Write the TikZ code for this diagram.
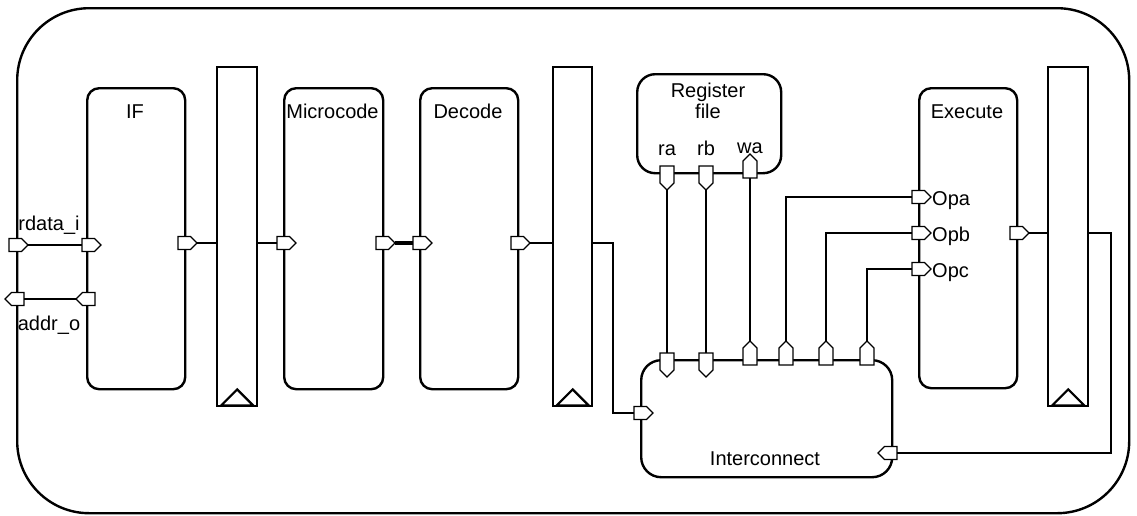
\documentclass[tikz,border=0pt]{standalone}
\usepackage{fontspec}
\setmainfont{Liberation Sans}
\usetikzlibrary{shapes.symbols}

\tikzset{
  wire/.style={line width=2.5pt},
  heavywire/.style={line width=4pt},
  frame/.style={draw, line width=2.4pt, rounded corners=72pt},
  blk/.style={draw, line width=2.4pt, rounded corners=12pt, anchor=north west, inner sep=0pt},
  rfblk/.style={draw, line width=2.4pt, rounded corners=18pt, anchor=north west, inner sep=0pt},
  regbar/.style={draw, line width=2.4pt, anchor=north west, inner sep=0pt, minimum width=40pt, minimum height=339pt},
  clk/.style={line width=2.2pt},
  port/.style={shape=signal, signal from=nowhere, draw, fill=white, line width=1.2pt, inner sep=0pt, outer sep=0pt},
  pe/.style={port, signal to=east, minimum width=19pt, minimum height=13pt, anchor=west, xshift=-6pt},
  pw/.style={port, signal to=west, minimum width=19pt, minimum height=13pt, anchor=east, xshift=6pt},
  ps/.style={port, signal to=south, minimum width=14pt, minimum height=17pt, anchor=north, yshift=6pt},
  pn/.style={port, signal to=north, minimum width=14pt, minimum height=17pt, anchor=south, yshift=-6pt},
  lbl/.style={inner sep=0pt, anchor=base},
}

\begin{document}
\begin{tikzpicture}[x=1pt, y=-1pt, font=\fontsize{20}{21}\selectfont]
  \useasboundingbox[fill=white] (0,0) rectangle (1137,515);

  % enclosing core outline
  \node[frame, anchor=north west, minimum width=1112pt, minimum height=505pt, inner sep=0pt] (core) at (16,7) {};

  % pipeline stages
  \node[blk, minimum width=98pt, minimum height=301pt] (if) at (86,87) {};
  \node[blk, minimum width=99pt, minimum height=301pt] (mc) at (283,87) {};
  \node[blk, minimum width=98pt, minimum height=301pt] (dec) at (419,87) {};
  \node[blk, minimum width=98pt, minimum height=300pt] (ex) at (918,87) {};
  \node[rfblk, minimum width=144pt, minimum height=99pt] (rf) at (636,73) {};
  \node[rfblk, rounded corners=20pt, minimum width=251pt, minimum height=117pt] (ic) at (640,359) {};

  \node[lbl] at (135,118) {IF};
  \node[lbl] at (332.5,118) {Microcode};
  \node[lbl] at (468,118) {Decode};
  \node[lbl] at (967,118) {Execute};
  \node[inner sep=0pt, anchor=north, align=center] (rftxt) at (708,83) {Register\\file};
  \node[lbl] at (765,465) {Interconnect};

  % pipeline registers with clock marks
  \node[regbar] (b1) at (216,66) {};
  \node[regbar, minimum width=39pt] (b2) at (552,66) {};
  \node[regbar] (b3) at (1047,66) {};
  \foreach \b in {b1,b2,b3}
    \draw[clk] (\b.south) ++(-16,-2) -- ++(16,-16) -- ++(16,16) -- cycle;

  % wire bends
  \coordinate (j1) at (613,243);
  \coordinate (j2) at (1111,233);

  % memory interface ports
  \node[pe] (rdo) at (15,245) {};
  \node[pe] (rdi) at (88,245) {};
  \node[pw] (ado) at (89,299) {};
  \node[pw] (adi) at (18,299) {};
  \node[lbl] at (49,230) {rdata\_i};
  \node[lbl] at (49,330) {addr\_o};

  % stage ports
  \node[pe] (ifo) at (184,243) {};
  \node[pe] (mci) at (283,243) {};
  \node[pe] (mco) at (382,243) {};
  \node[pe] (dci) at (419,243) {};
  \node[pe] (dco) at (517,243) {};
  \node[pe] (opa) at (918,197) {};
  \node[pe] (opb) at (918,233) {};
  \node[pe] (opc) at (918,269) {};
  \node[pe] (exo) at (1016,233) {};
  \node[lbl, anchor=base west] at (932,205) {Opa};
  \node[lbl, anchor=base west] at (932,241) {Opb};
  \node[lbl, anchor=base west] at (932,277) {Opc};

  % register file ports
  \node[ps] (rfa) at (667,172) {};
  \node[ps] (rfb) at (706,172) {};
  \node[pn] (rfw) at (750,172) {};
  \node[lbl] at (667,155) {ra};
  \node[lbl] at (706,155) {rb};
  \node[lbl] at (750,153) {wa};

  % interconnect ports
  \node[ps] (ica) at (667,359) {};
  \node[ps] (icb) at (706,359) {};
  \node[pn] (icw) at (750,359) {};
  \node[pn] (ixa) at (786,359) {};
  \node[pn] (ixb) at (826,359) {};
  \node[pn] (ixc) at (867,359) {};
  \node[pe] (icl) at (640,413) {};
  \node[pw] (icr) at (891,453) {};

  % wires
  \draw[wire] (rdo.east) -- (rdi.west);
  \draw[wire] (ado.west) -- (adi.east);
  \draw[wire] (ifo.east) -- (b1.west |- ifo.east);
  \draw[wire] (b1.east |- mci.west) -- (mci.west);
  \draw[heavywire] (mco.east) -- (dci.west);
  \draw[wire] (dco.east) -- (b2.west |- dco.east);
  \draw[wire] (b2.east |- j1) -- (j1) |- (icl.west);
  \draw[wire] (rfa.south) -- (ica.north);
  \draw[wire] (rfb.south) -- (icb.north);
  \draw[wire] (icw.north) -- (rfw.south);
  \draw[wire] (ixa.north) |- (opa.west);
  \draw[wire] (ixb.north) |- (opb.west);
  \draw[wire] (ixc.north) |- (opc.west);
  \draw[wire] (exo.east) -- (b3.west |- exo.east);
  \draw[wire] (b3.east |- j2) -- (j2) |- (icr.east);
\end{tikzpicture}
\end{document}
